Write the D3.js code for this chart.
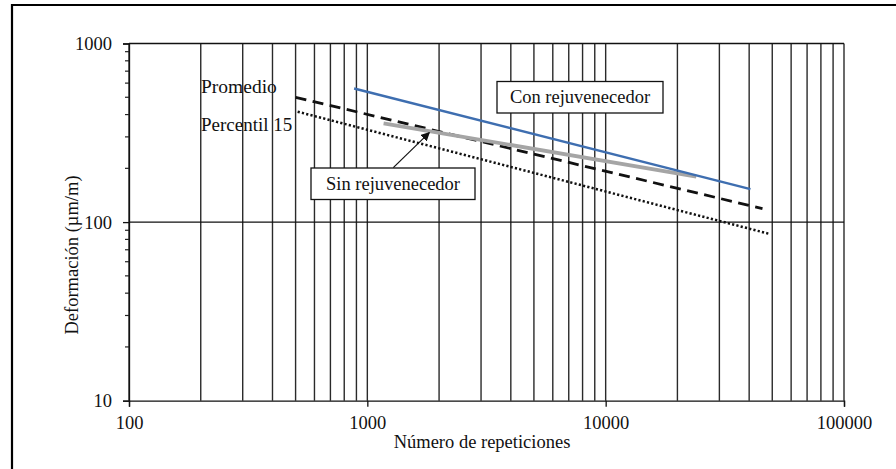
<!DOCTYPE html>
<html>
<head>
<meta charset="utf-8">
<script src="https://cdn.jsdelivr.net/npm/d3@7"></script>
<style>
  html, body { margin: 0; padding: 0; background: #fff; }
  svg { display: block; }
  text { font-family: "Liberation Serif", "Times New Roman", serif; fill: #111; }
</style>
</head>
<body>
<svg id="chart" width="896" height="469"></svg>
<script>
// Fatigue-law lines: strain (µm/m) versus number of load repetitions
const xDomain = [100, 100000];
const yDomain = [10, 1000];
const xTickLabels = ["100", "1000", "10000", "100000"];
const yTickLabels = ["10", "100", "1000"];

const conRejuvX = [880, 40500];
const conRejuvY = [560, 153];
const promedioX = [500, 45500];
const promedioY = [500, 119];
const percentil15X = [510, 48500];
const percentil15Y = [415, 86];
const sinRejuvX = [1170, 24000];
const sinRejuvY = [357, 180];

// arrow pointing from the "Sin rejuvenecedor" label to its line
const arrowX = [1285, 1820];
const arrowY = [202, 317];

const svg = d3.select("#chart");

const x = d3.scaleLog().domain(xDomain).range([129, 844]);
const y = d3.scaleLog().domain(yDomain).range([400.7, 43.5]);

// outer frame (top and left edges)
svg.append("line").attr("x1", 12).attr("x2", 896).attr("y1", 5).attr("y2", 5)
  .attr("stroke", "#000").attr("stroke-width", 2.2);
svg.append("line").attr("x1", 12).attr("x2", 12).attr("y1", 4).attr("y2", 469)
  .attr("stroke", "#000").attr("stroke-width", 2.2);

// tick values on a log scale
const xAll = [];
for (let d = 100; d < 100000; d *= 10) for (let k = 1; k < 10; k++) xAll.push(d * k);
xAll.push(100000);
const xMajor = xAll.filter(v => Math.abs(Math.log10(v) - Math.round(Math.log10(v))) < 1e-9);
const yMinor = [];
for (let d = 10; d < 1000; d *= 10) for (let k = 2; k < 10; k++) yMinor.push(d * k);

const grid = svg.append("g");
// vertical gridlines at every tick
grid.selectAll("line.vg").data(xAll).join("line")
  .attr("x1", d => x(d)).attr("x2", d => x(d))
  .attr("y1", y(1000)).attr("y2", y(10))
  .attr("stroke", "#2a2a2a").attr("stroke-width", 1.4);
// horizontal gridlines at the decades
grid.selectAll("line.hg").data([100, 1000]).join("line")
  .attr("x1", x(100)).attr("x2", x(100000))
  .attr("y1", d => y(d)).attr("y2", d => y(d))
  .attr("stroke", "#111").attr("stroke-width", 1.3);

// axes
const xAxis = d3.axisBottom(x).tickValues(xMajor).tickSize(6)
  .tickFormat((d, i) => xTickLabels[i]).tickPadding(9);
const gx = svg.append("g").attr("transform", `translate(0,${y(10)})`).call(xAxis);
gx.select(".domain").attr("stroke", "#111").attr("stroke-width", 1.3);
gx.selectAll(".tick line").attr("stroke", "#111").attr("stroke-width", 1.3);
gx.selectAll(".tick text").attr("font-size", 18.5)
  .style("font-family", "'Liberation Serif', serif").attr("fill", "#111");

const yAxis = d3.axisLeft(y).tickValues([10, 100, 1000]).tickSize(6)
  .tickFormat((d, i) => yTickLabels[i]).tickPadding(11);
const gy = svg.append("g").attr("transform", `translate(${x(100)},0)`).call(yAxis);
gy.select(".domain").attr("stroke", "#111").attr("stroke-width", 1.3);
gy.selectAll(".tick line").attr("stroke", "#111").attr("stroke-width", 1.3);
gy.selectAll(".tick text").attr("font-size", 18.5)
  .style("font-family", "'Liberation Serif', serif").attr("fill", "#111");
// minor y ticks
gy.selectAll("line.minor").data(yMinor).join("line")
  .attr("x1", -4).attr("x2", 0)
  .attr("y1", d => y(d)).attr("y2", d => y(d))
  .attr("stroke", "#222").attr("stroke-width", 1.2);

// axis titles
svg.append("text").attr("x", 482).attr("y", 448).attr("text-anchor", "middle")
  .attr("font-size", 18.5).text("Número de repeticiones");
svg.append("text").attr("transform", "translate(78,255) rotate(-90)")
  .attr("text-anchor", "middle").attr("font-size", 18.5).text("Deformación (µm/m)");

// series lines
const line = d3.line().x(d => x(d[0])).y(d => y(d[1]));
const zip = (xs, ys) => xs.map((v, i) => [v, ys[i]]);

svg.append("path").datum(zip(percentil15X, percentil15Y)).attr("d", line)
  .attr("fill", "none").attr("stroke", "#111").attr("stroke-width", 2.5)
  .attr("stroke-dasharray", "2.2,2.2");
svg.append("path").datum(zip(promedioX, promedioY)).attr("d", line)
  .attr("fill", "none").attr("stroke", "#111").attr("stroke-width", 2.8)
  .attr("stroke-dasharray", "11,6.5");
svg.append("path").datum(zip(sinRejuvX, sinRejuvY)).attr("d", line)
  .attr("fill", "none").attr("stroke", "#a5a5a5").attr("stroke-width", 3.8);
svg.append("path").datum(zip(conRejuvX, conRejuvY)).attr("d", line)
  .attr("fill", "none").attr("stroke", "#3e6eb0").attr("stroke-width", 2.4);

// series labels
svg.append("text").attr("x", 201).attr("y", 93).attr("font-size", 19.5).text("Promedio");
svg.append("text").attr("x", 201).attr("y", 131).attr("font-size", 19).text("Percentil 15");

// boxed labels
function boxLabel(x0, y0, w, h, label) {
  const g = svg.append("g");
  g.append("rect").attr("x", x0).attr("y", y0).attr("width", w).attr("height", h)
    .attr("fill", "#fff").attr("stroke", "#111").attr("stroke-width", 1.3);
  g.append("text").attr("x", x0 + w / 2).attr("y", y0 + h / 2 + 6)
    .attr("text-anchor", "middle").attr("font-size", 18.5).text(label);
}
boxLabel(497, 81.5, 166, 31.5, "Con rejuvenecedor");

// arrow
svg.append("defs").append("marker").attr("id", "arrowhead")
  .attr("viewBox", "0 0 10 10").attr("refX", 9).attr("refY", 5)
  .attr("markerWidth", 9).attr("markerHeight", 9).attr("markerUnits", "userSpaceOnUse")
  .attr("orient", "auto")
  .append("path").attr("d", "M0,0 L10,5 L0,10 z").attr("fill", "#111");
svg.append("line")
  .attr("x1", x(arrowX[0])).attr("y1", y(arrowY[0]))
  .attr("x2", x(arrowX[1])).attr("y2", y(arrowY[1]))
  .attr("stroke", "#111").attr("stroke-width", 1.2).attr("marker-end", "url(#arrowhead)");

boxLabel(311, 168, 164, 31.5, "Sin rejuvenecedor");
</script>
</body>
</html>
